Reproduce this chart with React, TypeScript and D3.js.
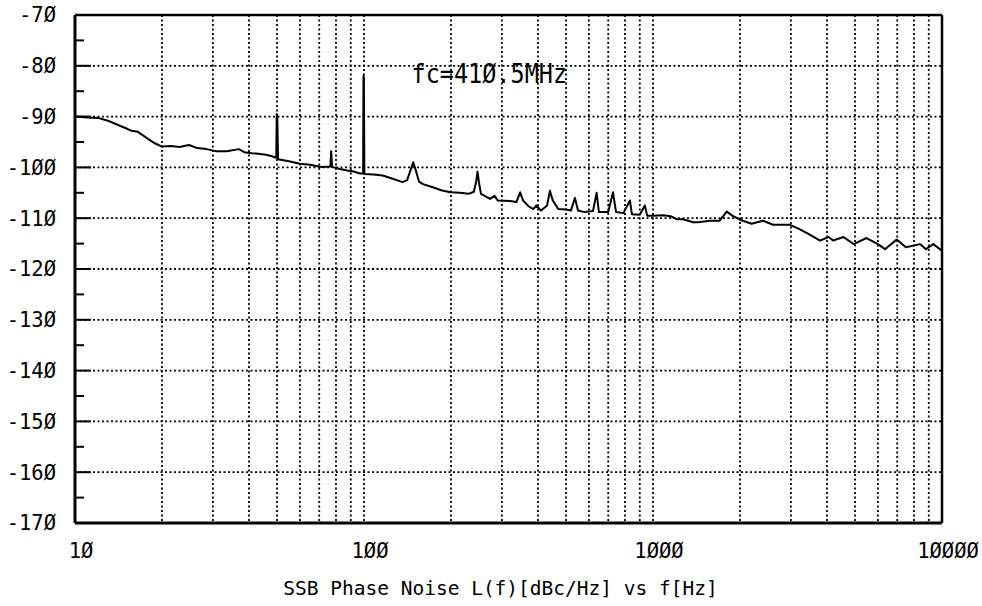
import React from 'react';
import * as d3 from 'd3';

// phase noise trace: [offset Hz, dBc/Hz]
const traceFreq = [
  10, 11, 12.1, 13, 13.9, 15, 15.7, 16.5, 17.1, 18, 18.8, 20, 21.5, 23, 24.8, 26.5, 28.5, 30.7, 33.5, 36.9,
  38.5, 40.9, 43, 45.8, 48, 49.7, 49.9, 50.1, 50.4, 55, 60, 65, 71.3, 76.5, 77, 77.5, 82.6, 87.5, 92, 97,
  99.3, 99.6, 99.9, 100.3, 108, 116, 125, 136, 141, 145, 148, 151, 155, 160, 173, 185, 199, 215, 230, 240,
  245, 247, 250, 254, 273, 283, 290, 320, 337, 347, 355, 370, 385, 395, 410, 430, 440, 450, 470, 500,
  520, 537, 550, 580, 620, 638, 650, 700, 727, 745, 790, 832, 845, 900, 937, 955, 1000, 1084, 1150, 1208,
  1270, 1377, 1433, 1574, 1700, 1800, 1880, 2000, 2193, 2400, 2606, 2978, 3200, 3500, 3785, 4050, 4200, 4560, 4950, 5480,
  6000, 6350, 6970, 7500, 8390, 8800, 9330, 10000,
];
const traceDb = [
  -90.0, -90.2, -90.3, -90.8, -91.5, -92.3, -92.8, -93.0, -93.6, -94.5, -95.2, -95.9, -95.8, -96.0, -95.6, -96.2, -96.4, -96.8, -96.8, -96.4,
  -97.0, -97.2, -97.3, -97.5, -97.8, -98.1, -89.5, -89.7, -98.4, -98.8, -99.3, -99.5, -99.9, -99.8, -96.8, -99.9, -100.3, -100.6, -100.8, -101.2,
  -101.2, -82.0, -82.3, -101.3, -101.4, -101.6, -102.2, -102.9, -102.5, -100.5, -99.0, -100.5, -102.8, -103.3, -103.9, -104.5, -104.9, -105.0, -105.2, -104.8,
  -102.5, -100.8, -103.0, -105.2, -106.2, -105.6, -106.5, -106.6, -106.8, -104.9, -106.5, -107.6, -108.2, -107.5, -108.5, -107.5, -104.6, -106.5, -108.2, -108.3,
  -108.5, -106.0, -108.5, -108.8, -108.6, -105.0, -108.8, -108.8, -104.9, -108.8, -109.0, -106.5, -109.2, -109.3, -107.5, -109.5, -109.5, -109.4, -109.6, -110.2,
  -110.2, -110.8, -110.8, -110.5, -110.5, -108.7, -109.5, -110.3, -111.1, -110.5, -111.3, -111.3, -112.1, -113.3, -114.4, -113.7, -114.4, -113.7, -115.1, -113.9,
  -115.1, -116.1, -114.2, -115.7, -115.1, -116.1, -115.1, -116.4,
];

const yTicks = [-70, -80, -90, -100, -110, -120, -130, -140, -150, -160, -170];
const yMinor = [-75, -85, -95, -105, -115, -125, -135, -145, -155, -165];
const xLabels = [10, 100, 1000, 10000];
const xLabelText = ['10', '100', '1000', '10000'];
const xTitle = 'SSB Phase Noise L(f)[dBc/Hz] vs f[Hz]';
const note = 'fc=410.5MHz';
const noteAt = { f: 146, db: -83.4 };

const W = 982;
const H = 606;
const margin = { top: 15, right: 40, bottom: 83, left: 75 };
const font = '"DejaVu Sans Mono", "Liberation Mono", monospace';

export default function App() {
  const x = d3.scaleLog().domain([10, 10000]).range([margin.left, W - margin.right]);
  const y = d3.scaleLinear().domain([-170, -70]).range([H - margin.bottom, margin.top]);

  // vertical grid at every 1-9 x decade inside the plot
  const xGrid: number[] = [];
  for (let dec = 10; dec < 10000; dec *= 10) {
    for (let m = 1; m <= 9; m++) {
      const v = dec * m;
      if (v > 10 && v < 10000) xGrid.push(v);
    }
  }

  const line = d3
    .line<number>()
    .x((_, i) => x(traceFreq[i]))
    .y((d) => y(d));

  const [x0, x1] = x.range();
  const [y1, y0] = y.range();

  return (
    <svg width={W} height={H} style={{ position: 'absolute', left: 0, top: 0, background: '#fff' }}>
      {/* grid */}
      <g stroke="#000" strokeWidth={1.8} strokeDasharray="2 2.5">
        {xGrid.map((v) => (
          <line key={'vx' + v} x1={x(v)} x2={x(v)} y1={y0} y2={y1} />
        ))}
        {yTicks.slice(1, -1).map((v) => (
          <line key={'hy' + v} x1={x0} x2={x1} y1={y(v)} y2={y(v)} />
        ))}
      </g>

      {/* ticks on the left axis */}
      <g stroke="#000" strokeWidth={2}>
        {yTicks.slice(1, -1).map((v) => (
          <line key={'mt' + v} x1={x0} x2={x0 + 16} y1={y(v)} y2={y(v)} />
        ))}
        {yMinor.map((v) => (
          <line key={'nt' + v} x1={x0} x2={x0 + 9} y1={y(v)} y2={y(v)} />
        ))}
      </g>

      {/* frame */}
      <line x1={x0} x2={x1} y1={y0} y2={y0} stroke="#000" strokeWidth={2.5} />
      <line x1={x0} x2={x1} y1={y1} y2={y1} stroke="#000" strokeWidth={3} />
      <line x1={x0} x2={x0} y1={y0} y2={y1} stroke="#000" strokeWidth={3} />
      <line x1={x1} x2={x1} y1={y0} y2={y1} stroke="#000" strokeWidth={2.5} />

      {/* trace */}
      <path d={line(traceDb) || ''} fill="none" stroke="#000" strokeWidth={2} strokeLinejoin="round" />

      {/* y labels */}
      <g fontFamily={font} fontSize={20.5} fill="#000" textAnchor="end">
        {yTicks.map((v) => (
          <text key={'yl' + v} x={x0 - 19} y={y(v)} dy="0.36em">
            {String(v).replace(/0/g, '\u00d8')}
          </text>
        ))}
      </g>

      {/* x labels */}
      <g fontFamily={font} fontSize={20.5} fill="#000" textAnchor="middle">
        {xLabels.map((v, i) => (
          <text key={'xl' + v} x={x(v) + 6} y={y1 + 28} dy="0.36em">
            {xLabelText[i].replace(/0/g, '\u00d8')}
          </text>
        ))}
      </g>

      <text x={(x0 + x1) / 2 - 8} y={y1 + 72} fontFamily={font} fontSize={19.5} textAnchor="middle" fill="#000">
        {xTitle}
      </text>

      <g transform={`translate(${x(noteAt.f)},${y(noteAt.db)}) scale(1,1.15)`}>
        <text x={0} y={0} fontFamily={font} fontSize={23.5} fill="#000">
          {note.replace(/0/g, '\u00d8')}
        </text>
      </g>
    </svg>
  );
}
